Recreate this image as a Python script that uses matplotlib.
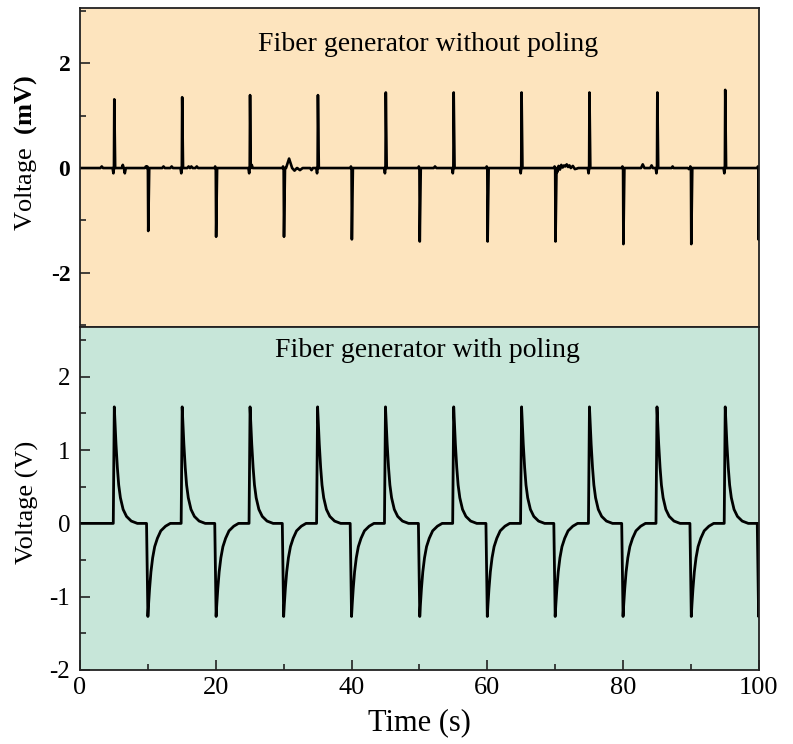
import matplotlib
matplotlib.use('Agg')
import matplotlib.pyplot as plt
from matplotlib.ticker import MultipleLocator

plt.rcParams['font.family'] = ['Liberation Serif', 'DejaVu Serif']
plt.rcParams['mathtext.fontset'] = 'custom'
plt.rcParams['mathtext.rm'] = 'Liberation Serif'
plt.rcParams['mathtext.bf'] = 'Liberation Serif:bold'
plt.rcParams['axes.unicode_minus'] = False

# --- top panel: fiber without poling (mV) ---
top_pos_t = [5.0, 15.0, 25.0, 35.0, 45.0, 55.0, 65.0, 75.0, 85.0, 95.0]
top_pos_v = [1.31, 1.35, 1.39, 1.39, 1.44, 1.44, 1.44, 1.44, 1.44, 1.49]
top_neg_t = [10.0, 20.0, 30.0, 40.0, 50.0, 60.0, 70.0, 80.0, 90.0, 99.95]
top_neg_v = [-1.20, -1.31, -1.31, -1.36, -1.40, -1.40, -1.40, -1.45, -1.45, -1.37]

# small bumps on the baseline (time, value, half width)
bump_t = [3.2, 6.3, 6.6, 9.7, 12.3, 13.5, 16.0, 16.4, 17.2, 25.3,
          30.8, 31.6, 32.4, 34.1, 52.3, 82.9, 84.2, 87.3, 89.7]
bump_v = [0.03, 0.06, -0.10, 0.03, 0.03, 0.03, 0.03, 0.03, 0.03, 0.06,
          0.18, -0.05, -0.04, -0.04, 0.03, 0.07, 0.05, 0.03, -0.02]
bump_w = [0.2, 0.15, 0.15, 0.15, 0.2, 0.2, 0.2, 0.2, 0.2, 0.15,
          0.45, 0.35, 0.4, 0.2, 0.2, 0.25, 0.2, 0.15, 0.15]

# noisy stretch after the 70 s spike
noise_t = [70.3, 70.5, 70.7, 70.9, 71.1, 71.3, 71.5, 71.7, 71.9, 72.1,
           72.3, 72.6, 72.9, 73.2]
noise_v = [-0.08, 0.04, -0.03, 0.06, 0.01, 0.05, 0.03, 0.07, 0.02, 0.05,
           0.0, 0.04, -0.02, -0.01]

# --- bottom panel: fiber with poling (V) ---
bot_pos_t = [5.05, 15.05, 25.05, 35.0, 45.0, 55.05, 65.05, 75.05, 85.0, 95.05]
bot_pos_v = [1.59] * 10
bot_neg_t = [10.0, 20.05, 30.0, 40.0, 50.05, 60.0, 70.0, 80.0, 90.05, 99.97]
bot_neg_v = [-1.27] * 10

pos_decay_dt = [0.0, 0.1, 0.25, 0.45, 0.65, 0.9, 1.3, 1.8, 2.5, 3.4]
pos_decay_f = [1.0, 0.87, 0.68, 0.48, 0.33, 0.22, 0.12, 0.06, 0.02, 0.0]
neg_decay_dt = [0.0, 0.1, 0.25, 0.45, 0.7, 1.0, 1.4, 1.9, 2.6, 3.3]
neg_decay_f = [1.0, 0.87, 0.7, 0.52, 0.37, 0.25, 0.16, 0.08, 0.03, 0.0]


def top_trace():
    pts = [(0.0, 0.0), (100.0, 0.0)]
    for t, v in zip(top_pos_t, top_pos_v):
        pts += [(t - 0.2, 0.0), (t - 0.08, -0.1), (t, 0.0),
                (t + 0.05, v), (t + 0.18, 0.0)]
    for t, v in zip(top_neg_t, top_neg_v):
        pts += [(t - 0.18, 0.0), (t - 0.09, 0.03), (t, 0.0),
                (t + 0.05, v), (t + 0.2, 0.0)]
    for t, v, w in zip(bump_t, bump_v, bump_w):
        pts += [(t - w, 0.0), (t, v), (t + w, 0.0)]
    pts += [(70.22, 0.0)] + list(zip(noise_t, noise_v)) + [(73.4, 0.0)]
    pts.sort()
    return [p[0] for p in pts], [p[1] for p in pts]


def bot_trace():
    pts = [(0.0, 0.0), (100.0, 0.0)]
    for t, v in zip(bot_pos_t, bot_pos_v):
        pts.append((t - 0.15, 0.0))
        pts += [(t + d, v * f) for d, f in zip(pos_decay_dt, pos_decay_f)]
    for t, v in zip(bot_neg_t, bot_neg_v):
        pts.append((t - 0.2, 0.0))
        pts += [(t + d, v * f) for d, f in zip(neg_decay_dt, neg_decay_f)]
    pts.sort()
    return [p[0] for p in pts], [p[1] for p in pts]


fig = plt.figure(figsize=(7.93, 7.44), dpi=100)
ax1 = fig.add_axes([0.1009, 0.5605, 0.856, 0.4287])
ax2 = fig.add_axes([0.1009, 0.0995, 0.856, 0.461])

ax1.set_facecolor('#FDE4BE')
ax2.set_facecolor('#C7E6D9')

x1, y1 = top_trace()
ax1.plot(x1, y1, color='black', lw=1.9)
x2, y2 = bot_trace()
ax2.plot(x2, y2, color='black', lw=2.0)

for ax in (ax1, ax2):
    ax.set_xlim(0, 100)
    for s in ax.spines.values():
        s.set_linewidth(1.3)
        s.set_color('#222222')
    ax.tick_params(which='both', direction='in', width=1.2, color='#222222')
    ax.tick_params(which='major', length=7)
    ax.tick_params(which='minor', length=4)

# top
ax1.set_ylim(-3.03, 3.05)
ax1.yaxis.set_minor_locator(MultipleLocator(1))
ax1.tick_params(axis='x', which='both', bottom=False, labelbottom=False)
ax1.tick_params(axis='y', pad=7)
ax1.set_yticks([-2, 0, 2])
ax1.set_yticklabels(['-2', '0', '2'], fontweight='bold', fontsize=17)
ax1.set_ylabel(r'Voltage  $\mathbf{(mV)}$', fontsize=19)
ax1.yaxis.set_label_coords(-0.06, 0.545)
ax1.text(0.512, 0.885, 'Fiber generator without poling', transform=ax1.transAxes,
         ha='center', va='center', fontsize=20)

# bottom
ax2.set_ylim(-2, 2.68)
ax2.yaxis.set_major_locator(MultipleLocator(1))
ax2.yaxis.set_minor_locator(MultipleLocator(0.5))
ax2.xaxis.set_major_locator(MultipleLocator(20))
ax2.xaxis.set_minor_locator(MultipleLocator(10))
ax2.tick_params(axis='y', labelsize=18, pad=7)
ax2.tick_params(axis='x', labelsize=19, pad=5)
ax2.set_ylabel('Voltage (V)', fontsize=19)
ax2.yaxis.set_label_coords(-0.06, 0.49)
ax2.set_xlabel('Time (s)', fontsize=22, labelpad=7)
ax2.text(0.512, 0.93, 'Fiber generator with poling', transform=ax2.transAxes,
         ha='center', va='center', fontsize=20)

fig.savefig('out.png', dpi=100)
